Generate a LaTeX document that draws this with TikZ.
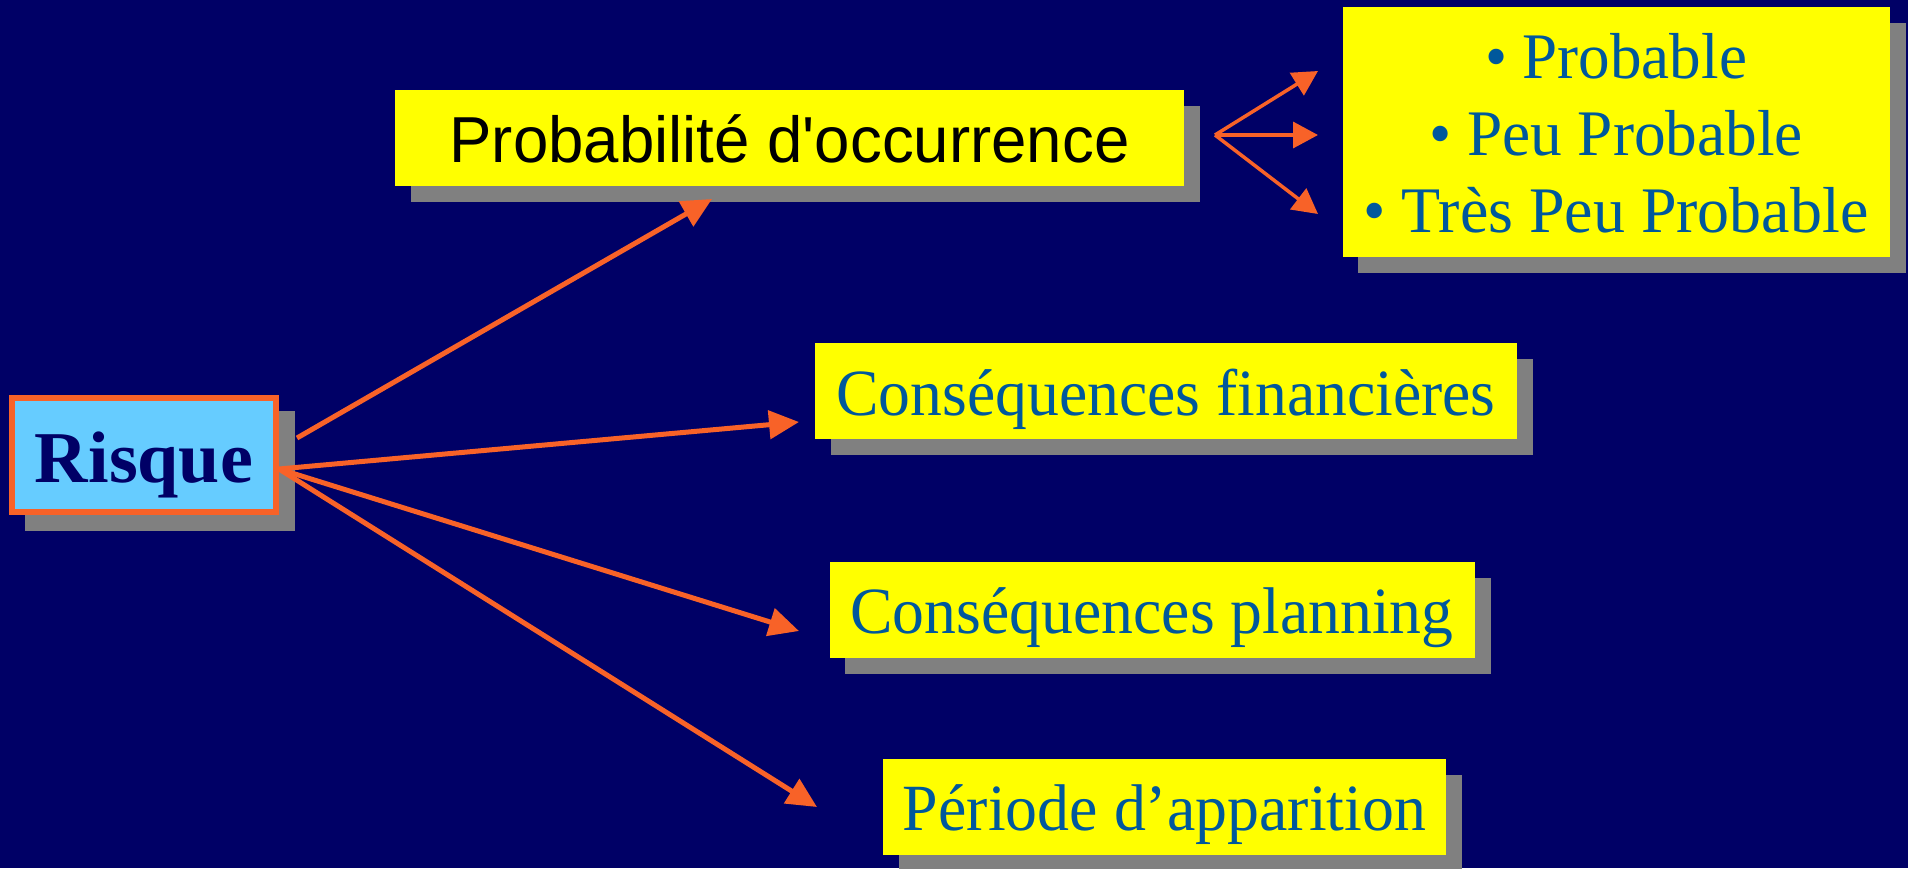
\documentclass[tikz,border=0pt]{standalone}
\usepackage{fontspec}
\setmainfont{Liberation Serif}
\newfontfamily\arialf{Liberation Sans}
\usetikzlibrary{arrows.meta}
\pgfdeclarelayer{bglayer}
\pgfdeclarelayer{shadowlayer}
\pgfsetlayers{bglayer,shadowlayer,main}
\definecolor{bgnavy}{RGB}{0,0,102}
\definecolor{boxyellow}{RGB}{255,255,0}
\definecolor{shadowc}{RGB}{128,128,128}
\definecolor{risqueblue}{RGB}{102,204,255}
\definecolor{arroworange}{RGB}{248,98,40}
\definecolor{textblue}{RGB}{0,88,156}
\newcommand{\fitw}[2]{\resizebox{#1pt}{\height}{#2}}
\tikzset{
  yellowbox/.style={fill=boxyellow, inner sep=0pt, minimum height=96, text height=#1, text depth=0pt},
  bigarrow/.style={draw=arroworange, line width=5pt, -{Triangle[length=30pt,width=28pt]}},
  smallarrow/.style={draw=arroworange, line width=3.5pt, -{Triangle[length=25pt,width=26pt]}},
  listline/.style={anchor=base, inner sep=0pt, text=textblue}
}
\begin{document}
\begin{tikzpicture}[x=1pt,y=-1pt]
\useasboundingbox (0,0) rectangle (1908,868);
\begin{pgfonlayer}{bglayer}
\fill[bgnavy] (0,0) rectangle (1908,868);
\end{pgfonlayer}

% Risque
\node[draw=arroworange, line width=6pt, fill=risqueblue, inner sep=0pt,
      minimum width=264, minimum height=114, text height=54, text depth=0pt,
      text=bgnavy] (risque) at (144,455)
  {\fitw{218}{\fontsize{73}{86}\selectfont\bfseries Risque}};

% Probabilite d'occurrence
\node[yellowbox=48, minimum width=789, text=black] (occ) at (789.5,138)
  {\fitw{680}{\arialf\fontsize{65}{78}\selectfont Probabilité d\textquotesingle occurrence}};

% list box
\node[fill=boxyellow, inner sep=0pt, minimum width=547, minimum height=250] (plist) at (1616,132) {};
\node[listline] (p1) at (1616,78)  {\fitw{262}{\fontsize{65}{77}\selectfont • Probable}};
\node[listline] (p2) at (1616,155) {\fitw{374}{\fontsize{65}{77}\selectfont • Peu Probable}};
\node[listline] (p3) at (1616,232) {\fitw{505}{\fontsize{65}{77}\selectfont • Très Peu Probable}};

% other boxes
\node[yellowbox=48, minimum width=702, text=textblue] (fin) at (1166,391)
  {\fitw{659}{\fontsize{66}{79}\selectfont Conséquences financières}};
\node[yellowbox=46, minimum width=645, text=textblue] (plan) at (1152,610)
  {\fitw{603}{\fontsize{66}{79}\selectfont Conséquences planning}};
\node[yellowbox=46, minimum width=563, text=textblue] (per) at (1164.5,807)
  {\fitw{523}{\fontsize{66}{79}\selectfont Période d’apparition}};

% shadows
\begin{pgfonlayer}{shadowlayer}
\foreach \n in {risque, occ, plist, fin, plan, per}
  \fill[shadowc] ([shift={(16,16)}]\n.north west) rectangle ([shift={(16,16)}]\n.south east);
\end{pgfonlayer}

% arrow end points
\coordinate (r1) at (297,438);
\coordinate (r2) at (279,469);
\coordinate (t1) at (712,199);
\coordinate (t2) at (799,422);
\coordinate (t3) at (799,631);
\coordinate (t4) at (817,807);
\coordinate (o) at (1215,135);
\coordinate (s1) at (1318,71);
\coordinate (s2) at (1318,135);
\coordinate (s3) at (1318,214);

\draw[bigarrow] (r1) -- (t1);
\draw[bigarrow] (r2) -- (t2);
\draw[bigarrow] (r2) -- (t3);
\draw[bigarrow] (r2) -- (t4);

\draw[smallarrow] (o) -- (s1);
\draw[smallarrow] (o) -- (s2);
\draw[smallarrow] (o) -- (s3);
\end{tikzpicture}
\end{document}
